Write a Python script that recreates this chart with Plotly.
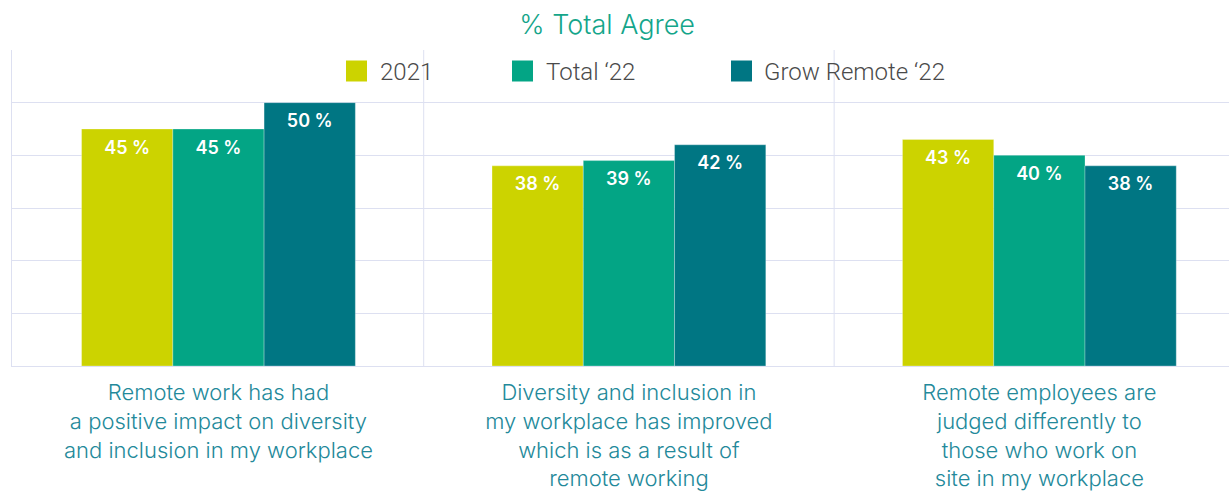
import plotly.graph_objects as go

categories = [
    "Remote work has had<br>a positive impact on diversity<br>and inclusion in my workplace",
    "Diversity and inclusion in<br>my workplace has improved<br>which is as a result of<br>remote working",
    "Remote employees are<br>judged differently to<br>those who work on<br>site in my workplace",
]
series_names = ["2021", "Total \u201822", "Grow Remote \u201822"]
values_2021 = [45, 38, 43]
values_total22 = [45, 39, 40]
values_grow22 = [50, 42, 38]
colors = ["#CCD300", "#03A585", "#007683"]

W, H = 1229, 491
ML, MT, MB = 12, 50, 125
xpos = list(range(len(categories)))
series_values = [values_2021, values_total22, values_grow22]

fig = go.Figure()
for i, (name, vals, col) in enumerate(zip(series_names, series_values, colors)):
    fig.add_trace(go.Bar(
        x=xpos, y=vals, name=name, offsetgroup=str(i),
        marker=dict(color=col, line=dict(color="rgba(255,255,255,0.35)", width=0.8)),
        hoverinfo="skip", showlegend=False,
    ))
for i, (name, vals) in enumerate(zip(series_names, series_values)):
    fig.add_trace(go.Scatter(
        x=xpos, y=vals, mode="markers+text", offsetgroup=str(i),
        marker=dict(size=16, color="rgba(0,0,0,0)"),
        text=[f"{v} %" for v in vals], textposition="bottom center",
        textfont=dict(family="Inter", size=18, color="white", weight=600),
        hoverinfo="skip", showlegend=False, cliponaxis=False,
    ))

grid_col = "#DDE0F1"
for xv in [0.5, 1.5]:
    fig.add_shape(type="line", xref="x", yref="paper", x0=xv, x1=xv, y0=0, y1=1,
                  line=dict(color=grid_col, width=1), layer="below")

# custom legend (square swatches + labels) inside the plot area
legend_marker_left = [346, 512, 731]
legend_text_left = [378, 544, 762]
legend_y = 71
for name, col, mx, tx in zip(series_names, colors, legend_marker_left, legend_text_left):
    xp = (mx - ML) / (W - ML)
    yp = (H - MB - legend_y) / (H - MT - MB)
    fig.add_shape(type="rect", xref="paper", yref="paper", xsizemode="pixel", ysizemode="pixel",
                  xanchor=xp, yanchor=yp, x0=0, x1=21, y0=-10.5, y1=10.5,
                  fillcolor=col, line=dict(width=0), layer="above")
    fig.add_annotation(text=name, xref="paper", yref="paper",
                       x=(tx - ML) / (W - ML), y=(H - MB - legend_y - 1) / (H - MT - MB),
                       xanchor="left", yanchor="middle", showarrow=False,
                       font=dict(family="Roboto", size=24, color="#4A4A4A", weight=300))

fig.update_layout(
    width=W, height=H,
    margin=dict(l=ML, r=0, t=MT, b=MB),
    paper_bgcolor="white", plot_bgcolor="white",
    barmode="group", bargap=0.333, bargroupgap=0,
    scattermode="group", scattergap=0.333,
    showlegend=False,
    title=dict(text="% Total Agree", x=0.494, xref="container", xanchor="center",
               y=1 - 25 / H, yref="container", yanchor="middle",
               font=dict(family="Inter", size=27, color="#14A58A", weight=300)),
    xaxis=dict(range=[-0.503, 2.462], tickvals=xpos, ticktext=categories,
               tickfont=dict(family="Inter", size=22, color="#23899A", weight=300),
               ticklabelstandoff=7, automargin=False,
               showgrid=False, zeroline=False, showline=True, linecolor=grid_col,
               ticks="", fixedrange=True),
    yaxis=dict(range=[0, 60], dtick=10, showticklabels=False, showgrid=True,
               gridcolor=grid_col, zeroline=False, showline=True, linecolor=grid_col,
               ticks="", fixedrange=True, automargin=False),
)

fig.write_html("out.html")
